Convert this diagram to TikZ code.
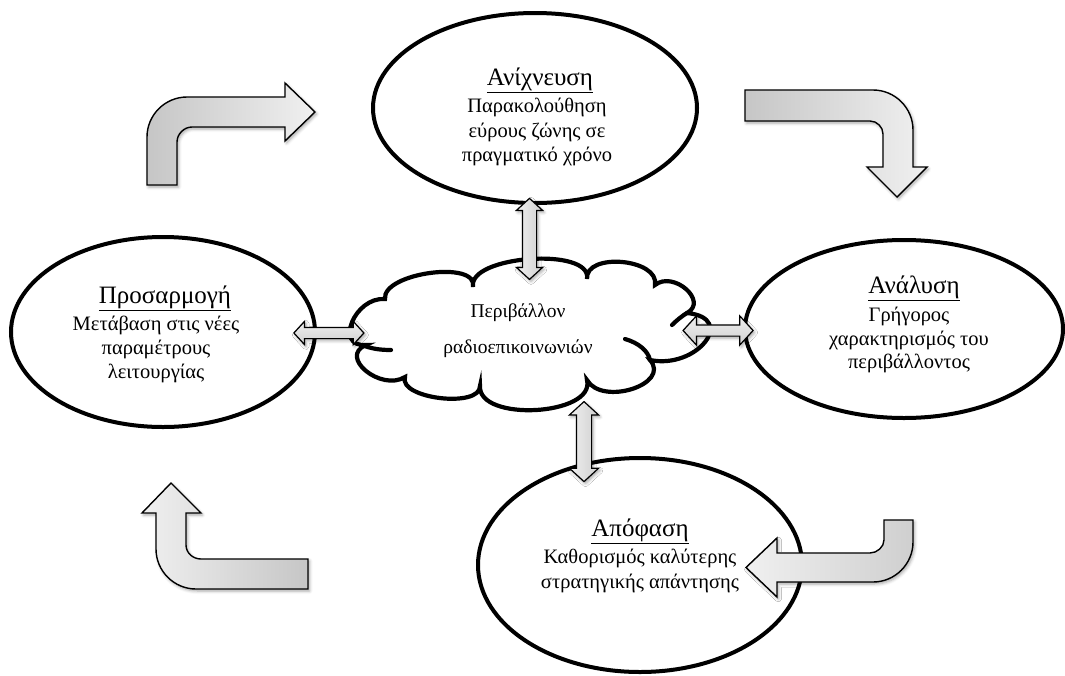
\documentclass[tikz,border=0pt]{standalone}
\usepackage{fontspec}
\setmainfont{Liberation Serif}
\usetikzlibrary{shapes.geometric,shapes.arrows,shadows.blur,calc}
\definecolor{gdark}{HTML}{C6C6C6}
\definecolor{glight}{HTML}{F0F0F0}
\definecolor{amid}{HTML}{CFCFCF}
\begin{document}
\begin{tikzpicture}[x=1pt,y=-1pt,
  stage/.style={ellipse, draw=black, line width=4pt, fill=white, inner sep=0pt},
  ttl/.style={font=\fontsize{25}{28}\selectfont, inner sep=0pt, anchor=base},
  body/.style={font=\fontsize{20.5}{24}\selectfont, inner sep=0pt, anchor=base},
  cld/.style={font=\fontsize{19.5}{22}\selectfont, inner sep=0pt, anchor=base},
  shd/.style={blur shadow={shadow xshift=1.5pt, shadow yshift=-2pt, shadow blur radius=3pt, shadow opacity=35}},
  bent/.style={draw=black, line width=1.4pt, line join=miter, shd},
  dblarr/.style={double arrow, draw=black, line width=1.2pt, text height=0pt, text depth=0pt,
    minimum width=0pt, double arrow tip angle=95, shd},
  puffline/.style={draw=black, line width=4.2pt, line cap=round, line join=miter},
]
\useasboundingbox (0,0) rectangle (1065,675);

% ---- stage ellipses ----
\node[stage, minimum width=324pt, minimum height=190pt] (det) at (535,108) {};
\node[stage, minimum width=304pt, minimum height=190pt] (adp) at (163,332) {};
\node[stage, minimum width=318pt, minimum height=178pt] (ana) at (904,329) {};
\node[stage, minimum width=324pt, minimum height=214pt] (dec) at (640,565) {};

% ---- cloud (radio environment) ----
\node[ellipse, minimum width=350pt, minimum height=146pt, inner sep=0pt] (env) at (528,336) {};
\draw[puffline, fill=white]
  (385,299) .. controls (381.9,272.9) and (478.7,259.7) .. (473,287)
            .. controls (467.3,255.4) and (592.7,246.6) .. (587,279)
            .. controls (584.9,252) and (659.7,258.6) .. (655,285)
            .. controls (673.4,270.3) and (708.6,301.1) .. (687,313)
            .. controls (737.6,318) and (696.8,369.7) .. (650,360)
            .. controls (671.2,384.3) and (601.9,406.3) .. (587,380)
            .. controls (595.7,415.7) and (478,422.3) .. (480,386)
            .. controls (480.4,408.5) and (398,398.6) .. (405,377)
            .. controls (381,391.9) and (338,356.7) .. (366,345)
            .. controls (333.8,347.3) and (354.7,296.7) .. (385,299) -- cycle;
\draw[puffline] (362,345) .. controls (372,349) and (381,350) .. (391,350);
\draw[puffline] (687,313) .. controls (682,316) and (677,320) .. (672,325);
\draw[puffline] (650,360) .. controls (648,351) and (639,343) .. (625,339);
\node[cld] (envA) at (518,317) {Περιβάλλον};
\node[cld] (envB) at (518,353) {ραδιοεπικοινωνιών};

% ---- texts ----
\node[ttl] (detT) at (540,85) {\underline{Ανίχνευση}};
\node[body] (det1) at (537,112) {Παρακολούθηση};
\node[body] (det2) at (537,137) {εύρους ζώνης σε};
\node[body] (det3) at (537,161) {πραγματικό χρόνο};

\node[ttl] (adpT) at (165,303) {\underline{Προσαρμογή}};
\node[body] (adp1) at (156,330) {Μετάβαση στις νέες};
\node[body] (adp2) at (156,354) {παραμέτρους};
\node[body] (adp3) at (156,378) {λειτουργίας};

\node[ttl] (anaT) at (914,293) {\underline{Ανάλυση}};
\node[body] (ana1) at (909,321) {Γρήγορος};
\node[body] (ana2) at (909,345) {χαρακτηρισμός του};
\node[body] (ana3) at (909,368) {περιβάλλοντος};

\node[ttl] (decT) at (640,536) {\underline{Απόφαση}};
\node[body] (dec1) at (640,563) {Καθορισμός καλύτερης};
\node[body] (dec2) at (640,588) {στρατηγικής απάντησης};

% ---- double arrows between stages and environment ----
\node[dblarr, shape border rotate=90, minimum height=81pt, inner xsep=6.5pt, inner ysep=0pt,
  double arrow head extend=6pt, left color=glight, right color=amid] (c1)
  at ($(det.south)!0.5!(env.north)+(-2,5)$) {};
\node[dblarr, shape border rotate=90, minimum height=80pt, inner xsep=7pt, inner ysep=0pt,
  double arrow head extend=7pt, left color=glight, right color=amid] (c2)
  at ($(env.south)!0.5!(dec.north)+(0,9)$) {};
\node[dblarr, minimum height=70pt, inner ysep=5pt, inner xsep=0pt, double arrow head extend=6pt,
  top color=glight, bottom color=amid] (c3) at ($(adp.east)!0.5!(env.west)+(-6,-1)$) {};
\node[dblarr, minimum height=70pt, inner ysep=5pt, inner xsep=0pt, double arrow head extend=9pt,
  top color=glight, bottom color=amid] (c4) at ($(env.east)!0.5!(ana.west)+(-5,-2)$) {};

% ---- bent block arrows (cycle) ----
\draw[bent, left color=gdark, right color=glight]
  (147,185) -- (147,137) .. controls (147,115) and (165,97) .. (187,97) -- (285,97) -- (285,83)
  -- (315,112) -- (285,141) -- (285,127) -- (192,127) .. controls (184,127) and (177,134) .. (177,142)
  -- (177,185) -- cycle;
\draw[bent, left color=gdark, right color=glight]
  (745,90) -- (873,90) .. controls (895,90) and (913,108) .. (913,130) -- (913,167) -- (927,167)
  -- (897,197) -- (867,167) -- (883,167) -- (883,134) .. controls (883,127) and (877,121) .. (870,121)
  -- (745,121) -- cycle;
\draw[bent, left color=glight, right color=amid]
  (913,520) -- (913,542) .. controls (913,564) and (895,582) .. (873,582) -- (777,582) -- (777,597)
  -- (746,567.5) -- (777,538) -- (777,553) -- (870,553) .. controls (877,553) and (884,547) .. (884,540)
  -- (884,520) -- cycle;
\draw[bent, left color=glight, right color=gdark]
  (308,589) -- (196,589) .. controls (174,589) and (156,571) .. (156,549) -- (156,513) -- (142,513)
  -- (171,483) -- (201,513) -- (186,513) -- (186,545) .. controls (186,553) and (193,559) .. (201,559)
  -- (308,559) -- cycle;
\end{tikzpicture}
\end{document}
